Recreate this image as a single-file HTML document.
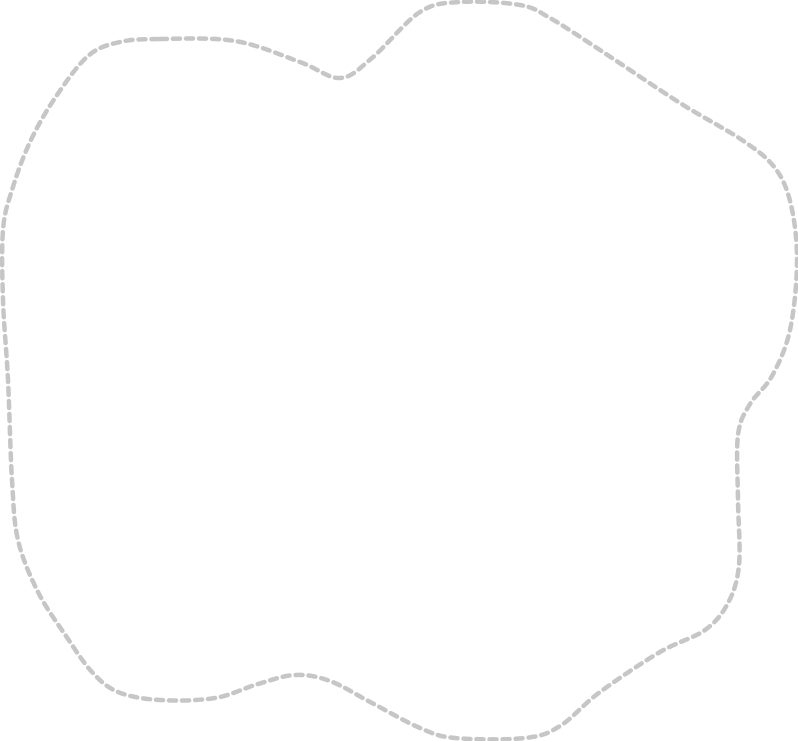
<!DOCTYPE html>
<html><head><meta charset="utf-8"><style>
html,body{margin:0;padding:0;background:#fff;width:798px;height:741px;overflow:hidden}
svg{display:block}
</style></head><body>
<svg width="798" height="741" viewBox="0 0 798 741" xmlns="http://www.w3.org/2000/svg">
<path id="p" fill="none" stroke="#c6c6c6" stroke-width="4.5" stroke-linecap="round" stroke-dasharray="7 6" d=""/>
</svg>
<script>
var pts=[[160,39],[235,41],[300,62],[340,78],[372,58],[420,12],[460,2],[520,5],[550,18],[600,50],[680,103],[742,140],[775,168],[791,205],[797,262],[790,330],[772,376],[750,404],[738,435],[738,500],[739,565],[728,603],[705,630],[660,652],[600,692],[560,726],[525,738],[455,738],[420,728],[372,703],[330,681],[295,675],[258,684],[215,698],[160,700],[118,692],[92,672],[66,636],[38,592],[18,540],[12,480],[8,380],[3,300],[3,230],[12,190],[30,142],[55,98],[88,56],[120,42]];
var n=pts.length,d="M"+pts[0][0]+","+pts[0][1];
for(var i=0;i<n;i++){var p0=pts[(i-1+n)%n],p1=pts[i],p2=pts[(i+1)%n],p3=pts[(i+2)%n];
var c1=[p1[0]+(p2[0]-p0[0])/6,p1[1]+(p2[1]-p0[1])/6],c2=[p2[0]-(p3[0]-p1[0])/6,p2[1]-(p3[1]-p1[1])/6];
d+=" C"+c1[0].toFixed(1)+","+c1[1].toFixed(1)+" "+c2[0].toFixed(1)+","+c2[1].toFixed(1)+" "+p2[0]+","+p2[1];}
document.getElementById("p").setAttribute("d",d+"Z");
</script>
</body></html>
